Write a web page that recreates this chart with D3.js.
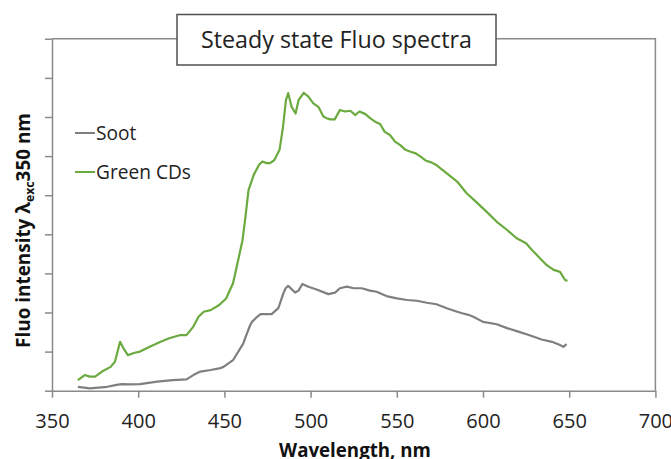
<!DOCTYPE html>
<html>
<head>
<meta charset="utf-8">
<script src="https://cdn.jsdelivr.net/npm/d3@7"></script>
<style>
  html, body { margin: 0; padding: 0; background: #fff; }
  svg { display: block; }
  text { font-family: "Open Sans", "DejaVu Sans", sans-serif; }
</style>
</head>
<body>
<svg id="chart" width="671" height="459"></svg>
<script>
// ---- data ----
const xTicks = [350, 400, 450, 500, 550, 600, 650, 700];
const yTicks = [0, 100, 200, 300, 400, 500, 600, 700, 800, 900];
const seriesNames = ["Soot", "Green CDs"];
const titleText = "Steady state Fluo spectra";
const xLabelText = "Wavelength, nm";

const greenWl = [365,369,372,375,379,384,386.5,389.5,391.5,394,398,401,407,413,418,424,428,432,435,438,442,447,451,455,458,460.5,462,464,467,470,472,474.5,476.5,479,482,484,485.7,487,489,491.3,493,496,498.7,501.6,504.5,507.4,509.3,511.3,514,517,520,523,526,528.3,531.6,534.5,537.4,540.3,543,546,549,552,555,558,561,564,567,570,573,579,585,590.5,596,602,608,614,619.5,625,628,633,637,641,644.7,647.6,649];
const greenVal = [27,40,36,36,49,61,74,125,108,91,97,100,113,125,134,142,142,164,189,202,206,219,236,275,334,385,437,513,552,577,586,582,582,590,616,675,743,761,726,709,743,762,752,735,726,701,697,694,694,718,714,716,705,714,708,697,688,682,662,654,637,628,616,611,607,598,588,584,577,556,535,505,483,458,432,411,390,377,362,339,321,309,304,283,281];

const sootWl = [365,372,382,387.5,390.4,395,401,411,420,428,432,436,442,447,449.5,455,461,462,465,466,469,471,477.4,481.3,484.2,485.5,487,491,493,495.2,498.7,503.5,510.3,514.2,517,521,525,529.6,534.5,538.3,544,550,556,561.6,567.4,573,579,585,588,591.5,594.4,600,608,614,620.5,627,634,640,644.7,646.6,648.5];
const sootVal = [10,6,10,15,17,16,17,23,27,29,40,49,53,57,61,78,121,134,168,176,189,196,196,211,249,262,268,251,256,273,266,259,247,251,262,266,262,262,256,253,242,236,232,230,225,221,211,202,198,194,189,176,170,160,151,142,131,125,117,112,119];

// ---- layout ----
const svg = d3.select("#chart");
const x = d3.scaleLinear().domain([350, 700]).range([52, 655.4]);
const y = d3.scaleLinear().domain([0, 900]).range([390.7, 38.8]);
const axisColor = "#8a8a8a";

// frame (top and right)
svg.append("path")
  .attr("d", `M${x(350)},${y(900)}H${x(700)}V${y(0)}`)
  .attr("fill", "none").attr("stroke", axisColor).attr("stroke-width", 1.5);

// y axis
const gy = svg.append("g").attr("transform", `translate(${x(350)},0)`)
  .call(d3.axisLeft(y).tickValues(yTicks).tickSize(7).tickSizeOuter(0).tickFormat(""));
gy.selectAll("path, line").attr("stroke", axisColor).attr("stroke-width", 1.5);

// x axis
const gx = svg.append("g").attr("transform", `translate(0,${y(0)})`)
  .call(d3.axisBottom(x).tickValues(xTicks).tickSize(7).tickSizeOuter(0).tickPadding(16));
gx.selectAll("path, line").attr("stroke", axisColor).attr("stroke-width", 1.5);
gx.selectAll("text").attr("font-size", 20).attr("fill", "#222")
  .attr("font-family", "'Open Sans', sans-serif");

// lines
const line = d3.line().x(d => x(d[0])).y(d => y(d[1]));
const sootData = d3.zip(sootWl, sootVal);
const greenData = d3.zip(greenWl, greenVal);
const colors = ["#7f7f7f", "#6aaa3e"];
svg.append("path").datum(sootData).attr("d", line)
  .attr("fill", "none").attr("stroke", colors[0]).attr("stroke-width", 2.2).attr("stroke-linejoin", "round");
svg.append("path").datum(greenData).attr("d", line)
  .attr("fill", "none").attr("stroke", colors[1]).attr("stroke-width", 2.2).attr("stroke-linejoin", "round");

function fitWidth(sel, target) {
  const node = sel.node();
  const fs = parseFloat(sel.attr("font-size"));
  const w = node.getBBox().width;
  sel.attr("font-size", fs * target / w);
}

// legend
const legY = [133, 172];
seriesNames.forEach((name, i) => {
  svg.append("line").attr("x1", 75).attr("x2", 95).attr("y1", legY[i]).attr("y2", legY[i])
    .attr("stroke", colors[i]).attr("stroke-width", 2);
  svg.append("text").attr("x", 96).attr("y", legY[i] + 7)
    .attr("class", "legend").attr("font-size", 19).attr("fill", "#222").text(name);
});
{
  const t = svg.selectAll("text.legend").filter((d, i) => i === 1);
  const w = t.node().getBBox().width;
  svg.selectAll("text.legend").attr("font-size", 19 * 95 / w);
}

// title box
svg.append("rect").attr("x", 177).attr("y", 14.5).attr("width", 319).attr("height", 50.5)
  .attr("fill", "#fff").attr("stroke", "#505050").attr("stroke-width", 1.5);
const title = svg.append("text").attr("x", 336.5).attr("y", 47.5)
  .attr("text-anchor", "middle").attr("font-size", 22).attr("fill", "#222").text(titleText);
fitWidth(title, 271);

// x label
const xl = svg.append("text").attr("x", 355).attr("y", 457)
  .attr("text-anchor", "middle").attr("font-size", 18).attr("font-weight", "bold")
  .attr("fill", "#111").text(xLabelText);
fitWidth(xl, 152);

// y label
const yl = svg.append("text").attr("transform", "translate(30,230.5) rotate(-90)")
  .attr("text-anchor", "middle").attr("font-size", 18).attr("font-weight", "bold").attr("fill", "#111");
yl.append("tspan").text("Fluo intensity  \u03bb");
yl.append("tspan").attr("font-size", "0.65em").attr("dy", "0.3em").text("exc");
yl.append("tspan").attr("dy", "-0.2em").text("350 nm");
fitWidth(yl, 235);
</script>
</body>
</html>
